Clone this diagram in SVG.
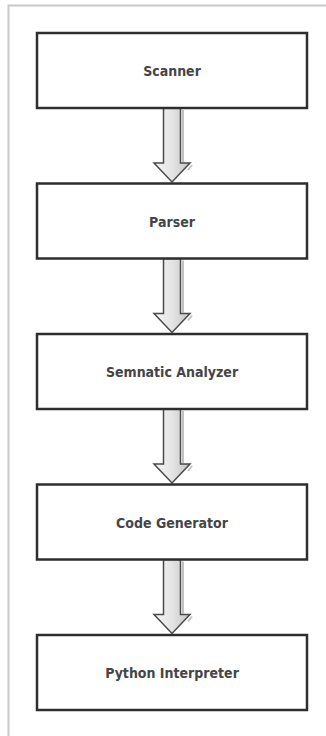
<svg xmlns="http://www.w3.org/2000/svg" width="326" height="736" viewBox="0 0 326 736">
<defs>
<style>
.box{fill:#fff;stroke:#2e2e2e;stroke-width:2.5}
.lbl{font-family:"DejaVu Sans Condensed","DejaVu Sans",sans-serif;font-size:14px;font-weight:bold;fill:#454545;text-anchor:middle}
.arr{fill:url(#ag);stroke:#4a4a4a;stroke-width:1.5;stroke-linejoin:miter}
.arrsh{fill:none;stroke:#999;stroke-width:2;opacity:0.6}
</style>
<linearGradient id="ag" x1="0" y1="0" x2="1" y2="0">
<stop offset="0" stop-color="#f6f6f6"/>
<stop offset="0.5" stop-color="#e4e4e4"/>
<stop offset="1" stop-color="#c4c4c4"/>
</linearGradient>
<path id="arrow" d="M -8.5 0 L 8.5 0 L 8.5 55 L 18 55 L 0 74 L -18 55 L -8.5 55 Z"/>
<path id="arrowsh" d="M 11 2 L 11 54 M 20 57 L 16 62"/>
</defs>
<rect x="0" y="0" width="326" height="736" fill="#fff"/>
<path d="M 8.5 736 L 8.5 5.5 L 326 5.5" fill="none" stroke="#c8c8c8" stroke-width="2"/>
<g id="connectors">
<g transform="translate(172,108)"><use href="#arrowsh" class="arrsh"/><use href="#arrow" class="arr"/></g>
<g transform="translate(172,258.5)"><use href="#arrowsh" class="arrsh"/><use href="#arrow" class="arr"/></g>
<g transform="translate(172,409)"><use href="#arrowsh" class="arrsh"/><use href="#arrow" class="arr"/></g>
<g transform="translate(172,559.5)"><use href="#arrowsh" class="arrsh"/><use href="#arrow" class="arr"/></g>
</g>
<g id="scanner">
<rect class="box" x="37" y="33" width="270" height="75"/>
<text class="lbl" x="172" y="76">Scanner</text>
</g>
<g id="parser">
<rect class="box" x="37" y="183.5" width="270" height="75"/>
<text class="lbl" x="172" y="226.5">Parser</text>
</g>
<g id="semantic">
<rect class="box" x="37" y="334" width="270" height="75"/>
<text class="lbl" x="172" y="377">Semnatic Analyzer</text>
</g>
<g id="codegen">
<rect class="box" x="37" y="484.5" width="270" height="75"/>
<text class="lbl" x="172" y="527.5">Code Generator</text>
</g>
<g id="python">
<rect class="box" x="37" y="635" width="270" height="75"/>
<text class="lbl" x="172" y="678">Python Interpreter</text>
</g>
</svg>
